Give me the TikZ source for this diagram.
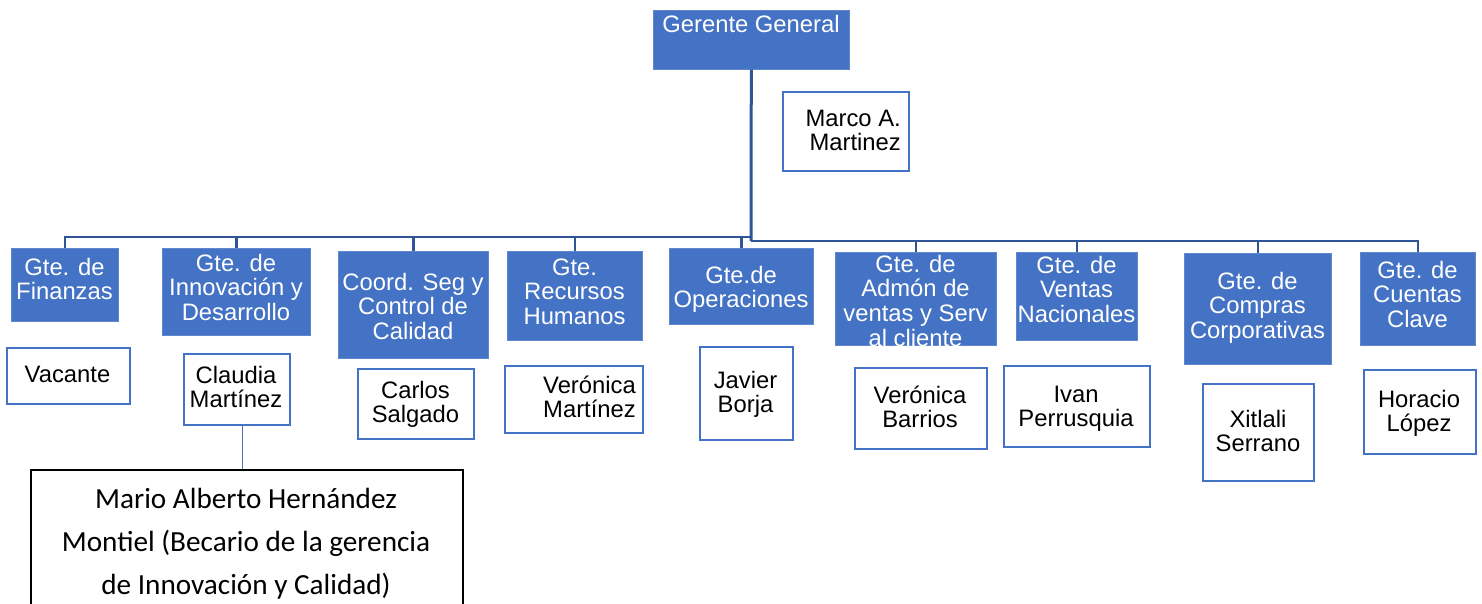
\documentclass[tikz,border=0pt]{standalone}
\usepackage{fontspec}
\setmainfont{Liberation Sans}
\newfontfamily\calibri{Carlito}
\definecolor{boxblue}{HTML}{4472C4}
\definecolor{linkblue}{HTML}{2F5597}
\newcommand{\cl}[1]{\begin{tabular}[t]{@{}c@{}}#1\end{tabular}}
\newcommand{\rl}[1]{\begin{tabular}[t]{@{}r@{}}#1\end{tabular}}
\tikzset{
  gte/.style={rectangle, fill=boxblue, draw=boxblue!85!white, line width=0.6pt, inner sep=0pt, anchor=north west},
  person/.style={rectangle, fill=white, draw=boxblue, line width=2pt, inner sep=0pt, anchor=north west},
  txt/.style={inner sep=0pt, anchor=base, font=\fontsize{23.8pt}{24.6pt}\selectfont},
  wtxt/.style={txt, text=white},
  conn/.style={draw=linkblue, line width=2.5pt},
}
\begin{document}
\begin{tikzpicture}[x=1pt, y=-1pt]
\useasboundingbox (0,0) rectangle (1482,603);
\clip (0,0) rectangle (1482,603);

% top
\node[gte, minimum width=196pt, minimum height=59pt] (gg) at (653,10) {};
\node[wtxt] (tgg) at (751,32) {Gerente General};
\node[person, minimum width=126pt, minimum height=79pt] (marco) at (782,91) {};
\node[txt, anchor=base east] (tmarco) at (901,126) {\rl{Marco A.\\Martinez}};

% managers
\node[gte, minimum width=107pt, minimum height=73pt] (b1) at (11,248) {};
\node[gte, minimum width=148pt, minimum height=87pt] (b2) at (162,248) {};
\node[gte, minimum width=150pt, minimum height=107pt] (b3) at (338,251) {};
\node[gte, minimum width=135pt, minimum height=89pt] (b4) at (507,251) {};
\node[gte, minimum width=144pt, minimum height=76pt] (b5) at (669,248) {};
\node[gte, minimum width=161pt, minimum height=93pt] (b6) at (835,252) {};
\node[gte, minimum width=121pt, minimum height=88pt] (b7) at (1016,252) {};
\node[gte, minimum width=147pt, minimum height=111pt] (b8) at (1184,253) {};
\node[gte, minimum width=115pt, minimum height=93pt] (b9) at (1360,252) {};

\node[wtxt] (t1) at (64.5,275) {\cl{Gte. de\\Finanzas}};
\node[wtxt] (t2) at (236,271) {\cl{Gte. de\\Innovación y\\Desarrollo}};
\node[wtxt] (t3) at (413,290) {\cl{Coord. Seg y\\Control de\\Calidad}};
\node[wtxt] (t4) at (574.5,275) {\cl{Gte.\\Recursos\\Humanos}};
\node[wtxt] (t5) at (741,283) {\cl{Gte.de\\Operaciones}};
\begin{scope}
\clip (b6.north west) rectangle (b6.south east);
\node[wtxt] (t6) at (915.5,272) {\cl{Gte. de\\Admón de\\ventas y Serv\\al cliente}};
\end{scope}
\node[wtxt] (t7) at (1076.5,273) {\cl{Gte. de\\Ventas\\Nacionales}};
\node[wtxt] (t8) at (1257.5,289) {\cl{Gte. de\\Compras\\Corporativas}};
\node[wtxt] (t9) at (1417.5,278) {\cl{Gte. de\\Cuentas\\Clave}};

% people
\node[person, minimum width=123pt, minimum height=56pt] (p1) at (6,347) {};
\node[person, minimum width=106pt, minimum height=71pt] (p2) at (183,353) {};
\node[person, minimum width=116pt, minimum height=70pt] (p3) at (357,368) {};
\node[person, minimum width=138pt, minimum height=67pt] (p4) at (504,365) {};
\node[person, minimum width=93pt, minimum height=93pt] (p5) at (699,346) {};
\node[person, minimum width=132pt, minimum height=81pt] (p6) at (854,367) {};
\node[person, minimum width=146pt, minimum height=81pt] (p7) at (1003,365) {};
\node[person, minimum width=111pt, minimum height=97pt] (p8) at (1202,383) {};
\node[person, minimum width=112pt, minimum height=84pt] (p9) at (1363,369) {};

\node[txt] (q1) at (67.5,382) {Vacante};
\node[txt] (q2) at (236,383) {\cl{Claudia\\Martínez}};
\node[txt] (q3) at (415.5,398) {\cl{Carlos\\Salgado}};
\node[txt, anchor=base east] (q4) at (636,393) {\rl{Verónica\\Martínez}};
\node[txt] (q5) at (745.5,388) {\cl{Javier\\Borja}};
\node[txt] (q6) at (920,403) {\cl{Verónica\\Barrios}};
\node[txt] (q7) at (1076,402) {\cl{Ivan\\Perrusquia}};
\node[txt] (q8) at (1258,427) {\cl{Xitlali\\Serrano}};
\node[txt] (q9) at (1419,407) {\cl{Horacio\\López}};

% intern
\node[rectangle, draw=black, line width=1.5pt, fill=white, inner sep=0pt, anchor=north west,
      minimum width=432pt, minimum height=160pt] (mario) at (30,469) {};
\node[inner sep=0pt, anchor=base, font=\calibri\fontsize{29.2pt}{43pt}\selectfont] (tm) at (246,508)
  {\cl{Mario Alberto Hernández\\Montiel (Becario de la gerencia\\de Innovación y Calidad)}};

% connectors
\coordinate (busL) at (751,237);
\coordinate (busR) at (751,241);
\draw[conn, line width=3pt] (gg.south) -- (busR);
\foreach \b in {b1,b2,b3,b4,b5} \draw[conn] (\b.north) |- (busL);
\foreach \b in {b6,b7,b8,b9} \draw[conn] (\b.north) |- (busR);
\coordinate (cm) at (242,424);
\draw[draw=boxblue, line width=1pt] (cm) -- (cm |- mario.north);
\end{tikzpicture}
\end{document}
